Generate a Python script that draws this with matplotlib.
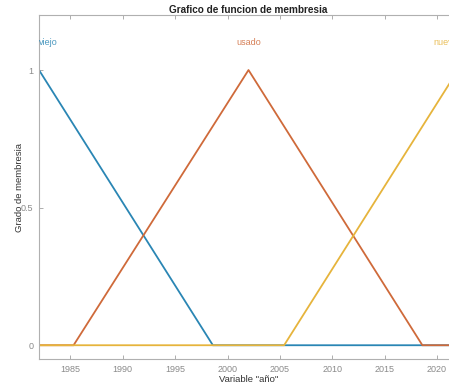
import numpy as np
import matplotlib.pyplot as plt

plt.rcParams['font.family'] = ['Liberation Sans', 'DejaVu Sans']

# membership functions for the "año" variable (triangular, x-points then grades)
mf_names = ["viejo", "usado", "nuevo"]
mf_x = [
    [1982.0, 1998.6, 2022.0],
    [1982.0, 1985.3, 2002.0, 2018.6, 2022.0],
    [1982.0, 2005.4, 2022.0],
]
mf_y = [
    [1.0, 0.0, 0.0],
    [0.0, 0.0, 1.0, 0.0, 0.0],
    [0.0, 0.0, 1.0],
]
mf_peaks = [1982.0, 2002.0, 2022.0]
mf_colors = ["#2a86b4", "#cf6a3a", "#e6b43c"]
label_align = ["left", "center", "right"]

xticks = [1985, 1990, 1995, 2000, 2005, 2010, 2015, 2020]
yticks = [0, 0.5, 1]

fig = plt.figure(figsize=(4.49, 3.83), dpi=100)
# axes run past the right edge of the figure
ax = fig.add_axes([39 / 449, 24 / 383, 419 / 449, 344 / 383])

for xs, ys, c in zip(mf_x, mf_y, mf_colors):
    ax.plot(xs, ys, color=c, lw=1.3, solid_capstyle="butt")

for name, px, c, ha in zip(mf_names, mf_peaks, mf_colors, label_align):
    ax.text(px, 1.1, name, color=c, ha=ha, va="center", fontsize=6.5, alpha=0.85)

ax.set_xlim(1982, 2022)
ax.set_ylim(-0.05, 1.2)
ax.set_xticks(xticks)
ax.set_yticks(yticks)
ax.set_yticklabels(["0", "0.5", "1"])

gray = "#8a8a8a"
for s in ax.spines.values():
    s.set_color("#b0b0b0")
    s.set_linewidth(0.8)
ax.tick_params(direction="in", length=3, width=0.6, color="#a0a0a0",
               labelsize=6.5, labelcolor=gray, top=True, right=True, pad=4)

ax.set_title("Grafico de funcion de membresia", fontsize=7.2, fontweight="bold",
             color="#222222", pad=1.5)
ax.set_xlabel('Variable "año"', fontsize=6.8, color="#333333", labelpad=1)
ax.set_ylabel("Grado de membresia", fontsize=6.8, color="#333333")
# y label's right edge sits about 15 px left of the axis line
ax.yaxis.set_label_coords(-15 / 419, 0.5)

fig.savefig("out.png", dpi=100)
